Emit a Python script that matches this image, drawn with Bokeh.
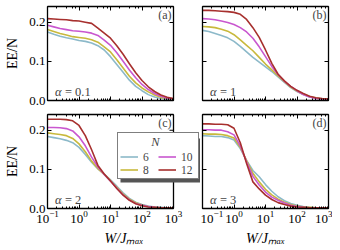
from bokeh.plotting import figure
from bokeh.models import (LogAxis, LinearAxis, FixedTicker, PrintfTickFormatter,
                          Label, Legend, LegendItem, LogTicker, CustomJSTickFormatter,
                          Span, BoxAnnotation)
from bokeh.layouts import column, row
from bokeh.embed import file_html
from bokeh.resources import INLINE

# ---------------- data ----------------
W = [0.1, 0.1585, 0.2512, 0.3981, 0.631, 1.0, 1.585, 2.512, 3.981, 6.31, 10.0,
     15.85, 25.12, 39.81, 63.1, 100.0, 158.5, 251.2, 398.1, 631.0, 1000.0]
N_VALUES = ["6", "8", "10", "12"]
COLORS = ["#8cb9c9", "#c8b93c", "#c957cf", "#a7302e"]
ALPHA_TEXT = ["0.1", "1", "2", "3"]
TAGS = ["(a)", "(b)", "(c)", "(d)"]

a_n6 = [0.175, 0.169, 0.164, 0.160, 0.157, 0.153, 0.151, 0.147, 0.140, 0.129, 0.112,
        0.092, 0.072, 0.052, 0.036, 0.025, 0.015, 0.009, 0.005, 0.003, 0.002]
a_n8 = [0.181, 0.176, 0.171, 0.167, 0.163, 0.161, 0.159, 0.155, 0.149, 0.137, 0.124,
        0.104, 0.083, 0.062, 0.045, 0.032, 0.022, 0.014, 0.008, 0.005, 0.003]
a_n10 = [0.192, 0.188, 0.184, 0.181, 0.178, 0.177, 0.175, 0.172, 0.166, 0.154, 0.141,
         0.122, 0.100, 0.078, 0.058, 0.041, 0.028, 0.018, 0.011, 0.006, 0.004]
a_n12 = [0.209, 0.208, 0.207, 0.206, 0.204, 0.203, 0.200, 0.197, 0.185, 0.172, 0.159,
         0.140, 0.118, 0.094, 0.071, 0.051, 0.035, 0.023, 0.014, 0.008, 0.005]

b_n6 = [0.179, 0.176, 0.171, 0.166, 0.160, 0.151, 0.138, 0.124, 0.110, 0.098, 0.086,
        0.074, 0.060, 0.046, 0.033, 0.023, 0.015, 0.009, 0.006, 0.004, 0.003]
b_n8 = [0.189, 0.188, 0.186, 0.182, 0.177, 0.168, 0.155, 0.141, 0.127, 0.110, 0.093,
        0.078, 0.063, 0.048, 0.034, 0.024, 0.016, 0.010, 0.006, 0.004, 0.003]
b_n10 = [0.209, 0.208, 0.206, 0.203, 0.199, 0.194, 0.186, 0.175, 0.159, 0.137, 0.112,
         0.087, 0.066, 0.049, 0.036, 0.025, 0.015, 0.009, 0.005, 0.004, 0.004]
b_n12 = [0.230, 0.230, 0.229, 0.228, 0.227, 0.225, 0.220, 0.207, 0.186, 0.161, 0.129,
         0.095, 0.067, 0.050, 0.036, 0.026, 0.018, 0.011, 0.007, 0.005, 0.004]

c_n6 = [0.184, 0.181, 0.178, 0.174, 0.168, 0.156, 0.138, 0.118, 0.101, 0.088, 0.073,
        0.057, 0.040, 0.026, 0.016, 0.010, 0.006, 0.004, 0.003, 0.002, 0.002]
c_n8 = [0.193, 0.191, 0.189, 0.186, 0.179, 0.165, 0.145, 0.121, 0.102, 0.087, 0.071,
        0.054, 0.037, 0.024, 0.015, 0.009, 0.005, 0.003, 0.002, 0.002, 0.002]
c_n10 = [0.207, 0.207, 0.206, 0.204, 0.198, 0.183, 0.160, 0.131, 0.106, 0.087, 0.070,
         0.052, 0.035, 0.022, 0.013, 0.008, 0.005, 0.003, 0.002, 0.002, 0.002]
c_n12 = [0.228, 0.228, 0.228, 0.227, 0.224, 0.212, 0.186, 0.150, 0.110, 0.088, 0.070,
         0.051, 0.034, 0.021, 0.012, 0.007, 0.004, 0.003, 0.002, 0.002, 0.002]

d_n6 = [0.186, 0.185, 0.184, 0.184, 0.181, 0.175, 0.153, 0.123, 0.097, 0.081, 0.061,
        0.044, 0.030, 0.020, 0.013, 0.008, 0.005, 0.003, 0.002, 0.002, 0.002]
d_n8 = [0.191, 0.190, 0.190, 0.189, 0.186, 0.180, 0.156, 0.122, 0.090, 0.068, 0.049,
        0.035, 0.024, 0.016, 0.010, 0.006, 0.004, 0.003, 0.002, 0.002, 0.002]
d_n10 = [0.201, 0.201, 0.200, 0.200, 0.196, 0.188, 0.160, 0.119, 0.082, 0.060, 0.042,
         0.029, 0.021, 0.014, 0.008, 0.005, 0.003, 0.002, 0.002, 0.002, 0.002]
d_n12 = [0.216, 0.216, 0.215, 0.215, 0.214, 0.205, 0.168, 0.115, 0.068, 0.050, 0.034,
         0.023, 0.015, 0.010, 0.006, 0.004, 0.003, 0.002, 0.002, 0.002, 0.002]

PANELS = [[a_n6, a_n8, a_n10, a_n12], [b_n6, b_n8, b_n10, b_n12],
          [c_n6, c_n8, c_n10, c_n12], [d_n6, d_n8, d_n10, d_n12]]

FONT = "Liberation Serif"
X_MIN, X_MAX = 0.1, 1000
Y_MAX = 0.24
Y_TICKS = [0.0, 0.1, 0.2]

FRAME_W = 126          # px per panel frame (4 decades)
FRAME_H = 94
EXTRA_C = 27           # panel (c) frame is widened so the legend is not clipped

# legend geometry (px, relative to the bottom-left of panel (c)'s frame)
LEG_X, LEG_Y = 70, 29
LEG_W, LEG_H = 80, 44
SHADOW = 3


def style_axis(ax, show_labels, minor=True):
    ax.axis_line_width = 1.3
    ax.axis_line_color = "black"
    ax.major_tick_in = 4
    ax.major_tick_out = 0
    ax.minor_tick_in = 2
    ax.minor_tick_out = 0
    ax.major_tick_line_color = "black"
    ax.major_tick_line_width = 1
    ax.minor_tick_line_width = 1
    ax.minor_tick_line_color = "black" if minor else None
    ax.major_label_text_font = FONT
    ax.major_label_text_color = "black"
    ax.major_label_text_font_size = "13px"
    ax.axis_label_text_font = FONT
    ax.axis_label_text_font_style = "normal"
    ax.axis_label_text_color = "black"
    if show_labels:
        ax.major_label_standoff = 2
    else:
        ax.formatter = CustomJSTickFormatter(code="return ''")
        ax.major_label_standoff = 0


def make_panel(idx, width, height, left, right, top, bottom, show_x, show_y,
               x_end=X_MAX, right_axis=True):
    p = figure(width=width, height=height, x_axis_type="log",
               x_range=(X_MIN, x_end), y_range=(0, Y_MAX), output_backend="svg",
               toolbar_location=None, min_border_left=left, min_border_right=right,
               min_border_top=top, min_border_bottom=bottom)
    p.outline_line_color = None
    p.xgrid.visible = False
    p.ygrid.visible = False
    p.background_fill_color = "white"
    p.border_fill_color = "white"

    xb = p.xaxis[0]
    yl = p.yaxis[0]
    yl.ticker = FixedTicker(ticks=Y_TICKS)
    if show_y:
        yl.formatter = PrintfTickFormatter(format="%.1f")
    style_axis(xb, show_x)
    style_axis(yl, show_y, minor=False)
    xb.bounds = (X_MIN, X_MAX)
    if show_x:
        xb.axis_label = "W/Jₘₐₓ"
        xb.axis_label_text_font_size = "14px"
        xb.axis_label_text_font_style = "italic"
        xb.axis_label_standoff = 5
    if show_y:
        yl.axis_label = "EE/N"
        yl.axis_label_text_font_size = "14px"
        yl.axis_label_standoff = 6

    xt = LogAxis(ticker=LogTicker(), bounds=(X_MIN, X_MAX))
    style_axis(xt, False)
    p.add_layout(xt, "above")
    if right_axis:
        yr = LinearAxis(ticker=FixedTicker(ticks=Y_TICKS))
        style_axis(yr, False, minor=False)
        p.add_layout(yr, "right")

    renderers = []
    for series, color in zip(PANELS[idx], COLORS):
        r = p.line(W, series, line_color=color, line_width=1.6)
        renderers.append(r)

    p.add_layout(Label(x=X_MAX, y=0.237, x_offset=-2, text=TAGS[idx], text_font=FONT,
                       text_font_size="12px", text_align="right",
                       text_baseline="top"))
    p.add_layout(Label(x=0.172, y=0.021, text="α", text_font=FONT,
                       text_font_size="12.5px", text_font_style="italic",
                       text_baseline="alphabetic"))
    p.add_layout(Label(x=0.172, y=0.021, x_offset=10, text="= " + ALPHA_TEXT[idx],
                       text_font=FONT, text_font_size="12.5px",
                       text_baseline="alphabetic"))
    return p, renderers


LEFT = 47
x_end_c = 10 ** (3 + 4 * EXTRA_C / FRAME_W)

fa, _ = make_panel(0, LEFT + FRAME_W + EXTRA_C, 6 + FRAME_H + 7, LEFT, EXTRA_C, 6, 7,
                   False, True)
fb, _ = make_panel(1, 2 + FRAME_W + 4, 6 + FRAME_H + 7, 2, 4, 6, 7, False, False)
fc, rc = make_panel(2, LEFT + FRAME_W + EXTRA_C, 7 + FRAME_H + 40, LEFT, 0, 7, 40,
                    True, True, x_end=x_end_c, right_axis=False)
fd, _ = make_panel(3, 2 + FRAME_W + 4, 7 + FRAME_H + 40, 2, 4, 7, 40, True, False)


def px_to_x(px):
    return 10 ** (-1 + 4 * px / FRAME_W)


def px_to_y(py):
    return Y_MAX * py / FRAME_H


# right-hand frame edge of panel (c) at W/J = 1000 (its frame is wider for the legend)
fc.add_layout(Span(location=X_MAX, dimension="height", line_color="black",
                   line_width=1.3))
for yt in Y_TICKS[1:]:
    fc.add_layout(BoxAnnotation(left=px_to_x(FRAME_W - 4), right=X_MAX,
                                bottom=yt - 0.0012, top=yt + 0.0012,
                                fill_color="black", fill_alpha=1, line_color=None))

# legend drop shadow
fc.add_layout(BoxAnnotation(left=px_to_x(LEG_X + SHADOW), right=px_to_x(LEG_X + LEG_W + SHADOW),
                            bottom=px_to_y(LEG_Y - SHADOW), top=px_to_y(LEG_Y + LEG_H - SHADOW),
                            fill_color="#555555", fill_alpha=1, line_color=None))

NBSP = "\u00a0"
legend = Legend(items=[LegendItem(label=n, renderers=[r]) for n, r in zip(N_VALUES, rc)],
                location=(LEG_X, LEG_Y), ncols=2, orientation="vertical",
                title=NBSP * 10 + "N", background_fill_color="white",
                background_fill_alpha=1.0,
                border_line_color="black", border_line_width=1)
legend.title_text_font = FONT
legend.title_text_font_style = "italic"
legend.title_text_font_size = "12.5px"
legend.title_standoff = 0
legend.label_text_font = FONT
legend.label_text_font_size = "11.5px"
legend.glyph_width = 18
legend.glyph_height = 13
legend.label_height = 13
legend.label_width = 15
legend.label_standoff = 5
legend.spacing = 0
legend.padding = 2
legend.margin = 0
fc.add_layout(legend, "center")

layout = column(row(fa, fb), row(fc, fd))
open("out.html", "w").write(file_html(layout, INLINE))
